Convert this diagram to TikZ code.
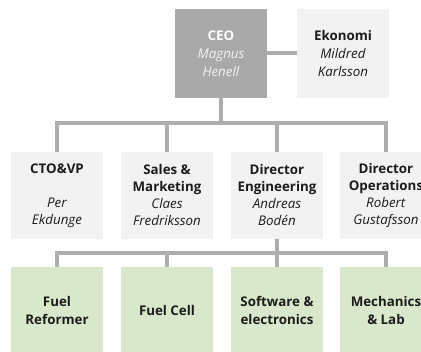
\documentclass[tikz,border=0pt]{standalone}
\usepackage{fontspec}
\setmainfont{Open Sans}
\definecolor{ceofill}{HTML}{A9A9A9}
\definecolor{lightbox}{HTML}{F2F2F2}
\definecolor{greenbox}{HTML}{D9E7CB}
\definecolor{linecol}{HTML}{ADADAD}
\definecolor{txt}{HTML}{1C1C1C}
\begin{document}
\begin{tikzpicture}[x=0.75pt,y=-0.75pt,
  box/.style={minimum width=69pt,inner sep=0pt,align=center,font=\fontsize{10}{12.75}\selectfont,text=txt},
  toprow/.style={box,minimum height=66.75pt,font=\fontsize{10}{13.5}\selectfont},
  midrow/.style={box,fill=lightbox,minimum height=65.25pt},
  lowrow/.style={box,fill=greenbox,minimum height=65.25pt,font=\fontsize{10}{13}\selectfont},
  conn/.style={draw=linecol,line width=3pt}]
\useasboundingbox (0,0) rectangle (421,352);
\clip (0,0) rectangle (421,352);
% top row
\node[toprow,fill=ceofill,text=white] (ceo) at (221,53.5) {\textbf{CEO}\\\textcolor{lightbox}{\textit{Magnus}}\\\textcolor{lightbox}{\textit{Henell}}};
\node[toprow,fill=lightbox] (eko) at (343,53.5) {\textbf{Ekonomi}\\\textit{Mildred}\\\textit{Karlsson}};
% middle row
\node[midrow] (cto) at (57,195.5) {\textbf{CTO\&VP}\\[12.75pt]\textit{Per}\\\textit{Ekdunge}};
\node[midrow] (sales) at (167,195.5) {\textbf{Sales \&}\\\textbf{Marketing}\\\textit{Claes}\\\textit{Fredriksson}};
\node[midrow] (eng) at (277,195.5) {\textbf{Director}\\\textbf{Engineering}\\\textit{Andreas}\\\textit{Bodén}};
\node[midrow] (ops) at (386,195.5) {\textbf{Director}\\\textbf{Operations}\\\textit{Robert}\\\textit{Gustafsson}};
% bottom row
\node[lowrow] (fr) at (57,310.5) {\textbf{Fuel}\\\textbf{Reformer}};
\node[lowrow] (fc) at (167,310.5) {\textbf{Fuel Cell}};
\node[lowrow] (sw) at (277,310.5) {\textbf{Software \&}\\\textbf{electronics}};
\node[lowrow] (ml) at (386,310.5) {\textbf{Mechanics}\\\textbf{\& Lab}};
% connectors
\coordinate (bus1) at (221,123);
\coordinate (bus2) at (277,253);
\draw[conn] (ceo.east |- eko.west) -- (eko.west);
\draw[conn] (ceo.south) -- (bus1);
\draw[conn] (bus1) -| (cto.north);
\draw[conn] (bus1) -| (sales.north);
\draw[conn] (bus1) -| (eng.north);
\draw[conn] (bus1) -| (ops.north);
\draw[conn] (eng.south) -- (bus2);
\draw[conn] (bus2) -| (fr.north);
\draw[conn] (bus2) -| (fc.north);
\draw[conn] (bus2) -- (sw.north);
\draw[conn] (bus2) -| (ml.north);
\end{tikzpicture}
\end{document}
